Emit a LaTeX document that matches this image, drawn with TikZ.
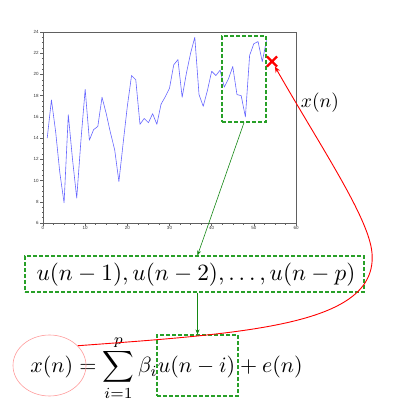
\documentclass[tikz,border=0pt]{standalone}
\usepackage{fontspec}
\newfontfamily\ticksf{Liberation Sans}
\usetikzlibrary{positioning,arrows.meta,shapes.geometric,shapes.misc}
\definecolor{boxgreen}{RGB}{40,160,40}
\definecolor{arrgreen}{RGB}{20,135,20}

\begin{document}
\begin{tikzpicture}[x=1pt, y=1pt,
  gbox/.style={
    draw=boxgreen, dash pattern=on 4pt off 2pt,
    line width=1.2pt, inner sep=0pt
  },
  garr/.style={-{Stealth[length=5pt,width=4pt]}, arrgreen, semithick},
  rarr/.style={-{Stealth[length=6pt,width=5pt]}, red, line width=0.9pt},
  axisln/.style={gray!75!black, line width=0.5pt},
  dataln/.style={blue!60, line width=0.6pt, line join=round},
  ticklbl/.style={font=\ticksf\fontsize{4.5}{5}\selectfont, text=gray!40!black, inner sep=1pt},
  bigmath/.style={inner sep=0pt},
]
\useasboundingbox (0,0) rectangle (400,413);

%% --- Time series plot ----------------------------------------------
\begin{scope}[x=4.2167pt, y=10.611pt, shift={(43pt,126.33pt)}]
  \draw[axisln] (0,6) rectangle (60,24);
  \foreach \v in {6,8,...,24}
    \draw[axisln] (0,\v) -- ++(-3pt,0) node[left, ticklbl] {\v};
  \foreach \v in {6.5,7,...,24}
    \draw[axisln] (0,\v) -- ++(-1.5pt,0);
  \foreach \n in {0,10,...,60}
    \draw[axisln] (\n,6) -- ++(0,-2.5pt) node[below, ticklbl] {\n};
  \foreach \n in {2.5,5,...,60}
    \draw[axisln] (\n,6) -- ++(0,-1.5pt);

  \draw[dataln] plot coordinates {
    (1,14.0) (2,17.6) (3,14.6) (4,10.7) (5,7.9) (6,16.2) (7,12.0)
    (8,8.35) (9,13.8) (10,18.6) (11,13.8) (12,14.8) (13,15.1) (14,17.85)
    (15,16.3) (16,14.5) (17,12.9) (18,9.9) (19,13.5) (20,17.0) (21,19.9)
    (22,19.5) (23,15.3) (24,15.85) (25,15.45) (26,16.3) (27,15.3) (28,17.2)
    (29,17.9) (30,18.7) (31,20.9) (32,21.4) (33,17.85) (34,20.1) (35,22.0)
    (36,23.5) (37,18.1) (38,17.0) (39,18.5) (40,20.3) (41,19.9) (42,20.4)
    (43,18.8) (44,19.6) (45,20.75) (46,18.1) (47,18.0) (48,16.0) (49,21.8)
    (50,22.9) (51,23.1) (52,21.2) (53,23.2)
  };
\end{scope}

%% --- Window and predicted sample -------------------------------------
\node[gbox, minimum width=44pt, minimum height=86pt] (win) at (244,334) {};
\node[cross out, draw=red, line width=2.2pt, minimum size=8pt, inner sep=0pt] (hit) at (272,351.5) {};
\node[bigmath, anchor=base, scale=1.95] (xlbl) at (320,305.5) {$x(n)$};

%% --- Lagged inputs ---------------------------------------------------
\node[gbox, minimum width=339pt, minimum height=36pt] (lags) at (194.5,139) {};
\node[bigmath, scale=2.33] (lagtxt) at (196,138) {$u(n-1),u(n-2),\ldots,u(n-p)$};

%% --- Model equation --------------------------------------------------
\node[bigmath, anchor=base, scale=2.2] (eq) at (166.5,40.25)
  {$\displaystyle x(n)=\sum_{i=1}^{p}\beta_i u(n-i)+e(n)$};
\node[gbox, minimum width=81pt, minimum height=61pt] (ubox) at (197.5,47.5) {};
\node[ellipse, draw=red!40, line width=0.6pt, minimum width=73pt, minimum height=61pt] (ell) at (49.5,47.5) {};

%% --- Connectors ------------------------------------------------------
\draw[garr] (win.south) -- (lags.north -| ubox.north);
\draw[garr] (lags.south -| ubox.north) -- (ubox.north);
\draw[rarr] (ell.35) .. controls (250,80) and (378,88) .. (372,160)
  .. controls (369,195) and (322,264) .. (hit);

\end{tikzpicture}
\end{document}
